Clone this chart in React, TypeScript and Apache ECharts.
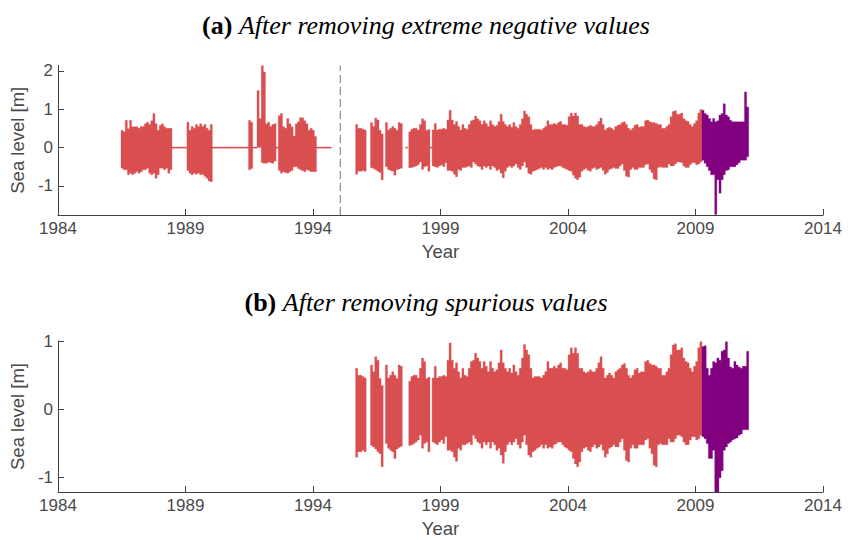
import React, { useEffect, useRef } from "react";
import * as echarts from "echarts";

// ---------- data ----------
const BIN = 1 / 12; // monthly envelope bins (years)

const xTicks = [1984, 1989, 1994, 1999, 2004, 2009, 2014];
const xRange = [1984, 2014];
const yTicksA = [-1, 0, 1, 2];
const yTicksB = [-1, 0, 1];
const yRangeA = [-1.76, 2.14];
const yRangeB = [-1.21, 1.0];

const titleA = "After removing extreme negative values";
const titleB = "After removing spurious values";
const xName = "Year";
const yName = "Sea level [m]";

// panel (a): early record 1986.5 - 1994.7 (0/0 = record filled with zero)
const earlyStartA = 1986.47;
const earlyHighA = [
  0.45, 0.41, 0.71, 0.49, 0.71, 0.54, 0.54, 0.54, 0.5, 0.55, 0.55, 0.62, 0.66, 0.6, 0.7, 0.89, 0.62, 0.45, 0.58, 0.62, 0.54, 0.5, 0.5, 0.5,
  0, 0, 0, 0, 0, 0, 0,
  0.66, 0.45, 0.55, 0.5, 0.6, 0.55, 0.62, 0.55, 0.6, 0.5, 0.45, 0.6,
  0, 0, 0, 0, 0, 0, 0, 0, 0, 0, 0, 0, 0, 0, 0, 0, 0,
  0.71, 0.66,
  0, 0,
  1.49, 0.76,
  2.14, 1.97, 0.62, 0.66, 0.55, 0.6, 0.62,
  0,
  0.83, 0.89, 0.54, 0.5, 0.76, 0.62, 0.54, 0.3,
  0.62, 0.67, 0.78, 0.78, 0.7, 0.62, 0.45, 0.5, 0.45, 0.29,
  0, 0, 0, 0, 0, 0, 0,
];
const earlyLowA = [
  -0.54, -0.58, -0.58, -0.71, -0.67, -0.71, -0.67, -0.63, -0.67, -0.63, -0.58, -0.58, -0.54, -0.67, -0.71, -0.67, -0.8, -0.71, -0.54, -0.54, -0.58, -0.54, -0.67, -0.58,
  0, 0, 0, 0, 0, 0, 0,
  -0.6, -0.67, -0.71, -0.67, -0.7, -0.67, -0.71, -0.7, -0.75, -0.8, -0.87, -0.89,
  0, 0, 0, 0, 0, 0, 0, 0, 0, 0, 0, 0, 0, 0, 0, 0, 0,
  -0.58, -0.55,
  0, 0,
  0, 0,
  -0.4, -0.41, -0.41, -0.38, -0.4, -0.41, -0.35,
  0,
  -0.6, -0.67, -0.63, -0.65, -0.67, -0.63, -0.6, -0.5,
  -0.5, -0.55, -0.58, -0.6, -0.63, -0.58, -0.6, -0.63, -0.63, -0.63,
  0, 0, 0, 0, 0, 0, 0,
];
const zeroLinesA = [
  [1997.63, 1997.78],
  [1998.58, 1998.67],
];
const breakYearA = 1995.07;

// both panels: record from 1995.67 (null = no data)
const sharedStart = 1995.67;
const sharedHigh = [
  0.6, 0.5, 0.5, 0.48, 0.46, null, null, 0.65, 0.55, 0.77, 0.72, 0.45, 0.35, null, 0.65, 0.46, 0.5, 0.55, 0.5, 0.45,
  0.65, 0.63, null, null, null, 0.41, 0.48, 0.5, 0.5, 0.46, 0.6, 0.75, 0.7, 0.45, 0.47, null, 0.46, 0.63, 0.46, 0.48,
  0.48, 0.5, 0.48, 0.72, 0.97, 0.72, 0.6, 0.68, 0.55, 0.46, 0.6, 0.5, 0.48, 0.6, 0.7, 0.72, 0.82, 0.75, 0.7, 0.6,
  0.7, 0.63, 0.55, 0.7, 0.6, 0.55, 0.58, 0.68, 0.87, 0.68, 0.6, 0.55, 0.6, 0.53, 0.65, 0.55, 0.5, 0.6, 0.75, 0.95,
  0.87, 0.8, 0.6, 0.46, 0.48, 0.48, 0.48, 0.46, 0.5, 0.55, 0.7, 0.6, 0.6, 0.63, 0.6, 0.65, 0.68, 0.6, 0.6, 0.58,
  0.8, 0.9, 0.82, 0.9, 0.82, 0.6, 0.6, 0.55, 0.53, 0.55, 0.58, 0.55, 0.55, 0.6, 0.68, 0.77, 0.6, 0.46, 0.5, 0.53,
  0.5, 0.46, 0.55, 0.58, 0.6, 0.65, 0.67, 0.6, 0.5, 0.46, 0.5, 0.58, 0.6, 0.53, 0.55, 0.55, 0.7, 0.72, 0.67, 0.65,
  0.65, 0.63, 0.6, 0.6, 0.5, 0.5, 0.55, 0.6, 0.8, 0.94, 0.96, 0.87, 0.87, 0.9, 0.75, 0.7, 0.68, 0.6, 0.55, 0.63,
  0.7, 0.9, 0.99,
];
const sharedLow = [
  -0.7, -0.62, -0.62, -0.6, -0.62, null, null, -0.53, -0.55, -0.58, -0.62, -0.65, -0.84, null, -0.5, -0.57, -0.6, -0.62, -0.72, -0.58,
  -0.56, -0.54, null, null, null, -0.53, -0.52, -0.5, -0.48, -0.45, -0.38, -0.57, -0.5, -0.48, -0.62, null, -0.48, -0.5, -0.52, -0.48,
  -0.45, -0.5, -0.4, -0.6, -0.6, -0.62, -0.7, -0.76, -0.57, -0.6, -0.52, -0.52, -0.5, -0.48, -0.52, -0.38, -0.43, -0.48, -0.5, -0.57,
  -0.48, -0.52, -0.48, -0.57, -0.48, -0.52, -0.6, -0.57, -0.67, -0.79, -0.62, -0.52, -0.48, -0.52, -0.48, -0.43, -0.52, -0.57, -0.48, -0.38,
  -0.52, -0.67, -0.7, -0.62, -0.6, -0.57, -0.55, -0.52, -0.57, -0.52, -0.57, -0.55, -0.57, -0.52, -0.5, -0.48, -0.48, -0.52, -0.55, -0.57,
  -0.6, -0.62, -0.72, -0.8, -0.84, -0.77, -0.62, -0.57, -0.55, -0.6, -0.62, -0.55, -0.52, -0.57, -0.55, -0.52, -0.6, -0.7, -0.65, -0.57,
  -0.55, -0.52, -0.55, -0.55, -0.48, -0.43, -0.6, -0.75, -0.77, -0.57, -0.52, -0.57, -0.57, -0.52, -0.52, -0.52, -0.45, -0.43, -0.57, -0.65,
  -0.82, -0.84, -0.52, -0.5, -0.52, -0.52, -0.52, -0.43, -0.48, -0.48, -0.43, -0.38, -0.38, -0.4, -0.48, -0.52, -0.52, -0.45, -0.4, -0.4,
  -0.45, -0.43, -0.38,
];

// last stretch of the record (purple), 2009.25 - 2011.0
const purpleStart = sharedStart + 163 * BIN;
const purpleHighA = [0.97, 0.89, 0.85, 0.76, 0.67, 0.76, 0.67, 0.7, 0.85, 0.89, 1.14, 0.85, 0.8, 0.71, 0.67, 0.67, 0.67, 0.67, 0.67, 0.67, 1.45, 1.06];
const purpleLowA = [-0.33, -0.41, -0.5, -0.6, -0.71, -0.71, -1.75, -0.84, -1.19, -0.84, -0.71, -0.6, -0.58, -0.5, -0.5, -0.5, -0.45, -0.4, -0.33, -0.33, -0.33, -0.24];
const purpleHighB = [0.92, 0.93, 0.6, 0.5, 0.6, 0.7, 0.68, 0.75, 0.72, 0.85, 0.87, 0.99, 0.75, 0.62, 0.6, 0.7, 0.65, 0.62, 0.6, 0.63, 0.63, 0.85];
const purpleLowB = [-0.4, -0.43, -0.5, -0.72, -0.72, -0.6, -1.21, -1.21, -1.0, -0.9, -0.6, -0.55, -0.5, -0.48, -0.45, -0.43, -0.42, -0.38, -0.36, -0.3, -0.3, -0.3];

// ---------- styling ----------
const RED = "#D94F50";
const PURPLE = "#800080";
const AXIS = "#404040";
const LABEL = "#4a4a4a";
const SANS = "'Liberation Sans', Arial, Helvetica, sans-serif";
const SERIF = "'Liberation Serif', 'Times New Roman', serif";

type Run = { starts: number[]; his: number[]; los: number[] };

// split a binned record into contiguous runs (each run becomes one stepped polygon)
function toRuns(start: number, high: (number | null)[], low: (number | null)[], width = BIN): Run[] {
  const runs: Run[] = [];
  let cur: Run | null = null;
  for (let k = 0; k < high.length; k++) {
    const h = high[k];
    const l = low[k];
    if (h == null || l == null) {
      cur = null;
      continue;
    }
    if (!cur) {
      cur = { starts: [], his: [], los: [] };
      runs.push(cur);
    }
    cur.starts.push(start + k * width);
    cur.his.push(h);
    cur.los.push(l);
  }
  return runs;
}

function envSeries(idx: number, runs: Run[], color: string) {
  const data = runs.map((r, i) => [
    r.starts[0],
    r.starts[r.starts.length - 1] + BIN,
    Math.min(...r.los),
    Math.max(...r.his),
    i,
  ]);
  return {
    type: "custom",
    xAxisIndex: idx,
    yAxisIndex: idx,
    encode: { x: [0, 1], y: [2, 3] },
    data,
    clip: true,
    silent: true,
    renderItem: (params: any, api: any) => {
      const run = runs[api.value(4)];
      const n = run.starts.length;
      const top: number[][] = [];
      const bot: number[][] = [];
      for (let k = 0; k < n; k++) {
        const s = run.starts[k];
        const e = s + BIN;
        const a = api.coord([s, run.his[k]]);
        const b = api.coord([e, run.los[k]]);
        let yt = a[1];
        let yb = b[1];
        if (yb - yt < 1.3) {
          const m = (yt + yb) / 2;
          yt = m - 0.65;
          yb = m + 0.65;
        }
        top.push([a[0], yt], [b[0], yt]);
        bot.push([a[0], yb], [b[0], yb]);
      }
      const points = top.concat(bot.reverse());
      return { type: "polygon", shape: { points }, style: { fill: color, stroke: color, lineWidth: 0.3 } };
    },
  };
}

function xAxisFor(idx: number) {
  return {
    type: "value",
    gridIndex: idx,
    min: xRange[0],
    max: xRange[1],
    splitLine: { show: false },
    axisLine: { show: true, onZero: false, lineStyle: { color: AXIS, width: 1 } },
    axisTick: { show: true, inside: true, length: 6, customValues: xTicks, lineStyle: { color: AXIS } },
    axisLabel: {
      customValues: xTicks,
      formatter: (v: number) => String(v),
      color: LABEL,
      fontSize: 17,
      fontFamily: SANS,
      margin: 5,
    },
    name: xName,
    nameLocation: "middle",
    nameGap: 27,
    nameTextStyle: { color: LABEL, fontSize: 18.5, fontFamily: SANS },
  };
}

function yAxisFor(idx: number, range: number[], ticks: number[]) {
  return {
    type: "value",
    gridIndex: idx,
    min: range[0],
    max: range[1],
    splitLine: { show: false },
    axisLine: { show: true, onZero: false, lineStyle: { color: AXIS, width: 1 } },
    axisTick: { show: true, inside: true, length: 6, customValues: ticks, lineStyle: { color: AXIS } },
    axisLabel: {
      customValues: ticks,
      formatter: (v: number) => String(v),
      color: LABEL,
      fontSize: 17,
      fontFamily: SANS,
      margin: 5,
    },
    name: yName,
    nameLocation: "middle",
    nameRotate: 90,
    nameGap: 21,
    nameTextStyle: { color: LABEL, fontSize: 18.5, fontFamily: SANS },
  };
}

function titleGraphic(tag: string, text: string, x: number, y: number) {
  return {
    type: "text",
    x,
    y,
    style: {
      text: `{b|${tag}} {i|${text}}`,
      fontFamily: SERIF,
      fontSize: 26,
      fill: "#000",
      align: "center",
      verticalAlign: "middle",
      rich: {
        b: { fontFamily: SERIF, fontWeight: "bold", fontSize: 26, fill: "#000" },
        i: { fontFamily: SERIF, fontStyle: "italic", fontSize: 26, fill: "#000" },
      },
    },
  };
}

export default function App() {
  const ref = useRef<HTMLDivElement>(null);

  useEffect(() => {
    if (!ref.current) return;
    const chart = echarts.init(ref.current, undefined, { renderer: "svg" });

    const zeroRunsA: Run[] = zeroLinesA.map((z) => ({ starts: [z[0]], his: [0], los: [0] }));

    const option: any = {
      animation: false,
      backgroundColor: "#ffffff",
      grid: [
        { left: 54, right: 25, top: 65.5, height: 149.5, containLabel: false },
        { left: 54, right: 25, top: 341, height: 151, containLabel: false },
      ],
      xAxis: [xAxisFor(0), xAxisFor(1)],
      yAxis: [yAxisFor(0, yRangeA, yTicksA), yAxisFor(1, yRangeB, yTicksB)],
      graphic: [
        titleGraphic("(a)", titleA, 426, 25),
        titleGraphic("(b)", titleB, 426, 302),
      ],
      series: [
        envSeries(0, toRuns(earlyStartA, earlyHighA, earlyLowA), RED),
        envSeries(0, zeroRunsA, RED),
        envSeries(0, toRuns(sharedStart, sharedHigh, sharedLow), RED),
        envSeries(0, toRuns(purpleStart, purpleHighA, purpleLowA), PURPLE),
        {
          type: "line",
          xAxisIndex: 0,
          yAxisIndex: 0,
          data: [
            [breakYearA, yRangeA[0]],
            [breakYearA, yRangeA[1]],
          ],
          symbol: "none",
          silent: true,
          lineStyle: { color: "#8c8c8c", width: 1.2, type: [8, 4] },
        },
        envSeries(1, toRuns(sharedStart, sharedHigh, sharedLow), RED),
        envSeries(1, toRuns(purpleStart, purpleHighB, purpleLowB), PURPLE),
      ],
    };

    chart.setOption(option);
    return () => {
      chart.dispose();
    };
  }, []);

  return (
    <div
      ref={ref}
      style={{ position: "fixed", left: 0, top: 0, width: 848, height: 540, background: "#fff" }}
    />
  );
}
